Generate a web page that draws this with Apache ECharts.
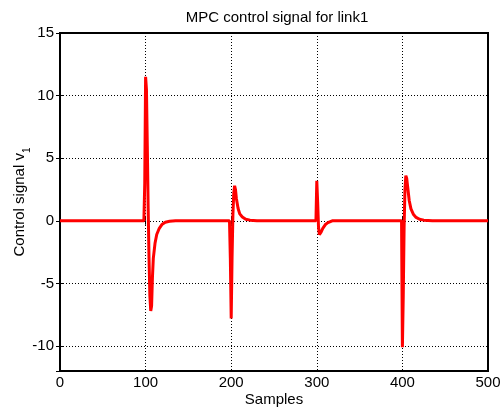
<!DOCTYPE html>
<html lang="en">
<head>
<meta charset="UTF-8" />
<title>MPC control signal</title>
<style>
* { margin: 0; padding: 0; }
#chartEl { width: 501px; height: 408px; background: #fff; }
</style>
</head>
<body>
<div id="chartEl"></div>
<script src="https://cdn.jsdelivr.net/npm/echarts@6/dist/echarts.min.js"></script>
<script>
// samples (zero elsewhere)
const samples = [0, 98, 99, 100, 101, 102, 103, 104, 105, 106, 107, 108, 109, 111, 113, 116, 119, 123, 128, 135,
  198, 199, 200, 201, 202, 203, 204, 205, 206, 208, 210, 213, 217, 222, 230,
  299, 300, 301, 302, 303, 304, 305, 307, 310, 313, 318,
  399, 400, 401, 402, 403, 404, 405, 406, 408, 410, 413, 416, 420, 425, 435, 500];
const signal = [0, 0, 3, 11.5, 10.5, 6, 1, -3, -6, -7.2, -6.8, -4.5, -3, -1.8, -1.1, -0.6, -0.3, -0.12, -0.04, 0,
  0, -3, -7.8, -3, 0.5, 2.2, 2.8, 2.5, 1.8, 1.0, 0.55, 0.3, 0.12, 0.05, 0,
  0, 3.2, 1.5, -0.5, -1.1, -1.2, -0.9, -0.6, -0.3, -0.15, 0,
  0, -10.1, -6, -0.5, 2.5, 3.6, 3.4, 2.8, 1.6, 0.95, 0.5, 0.27, 0.12, 0.05, 0, 0];
const xTicks = [0, 100, 200, 300, 400, 500];
const yTicks = [-10, -5, 0, 5, 10, 15];

const font = 'Liberation Sans, Arial, sans-serif';
const dotted = { color: '#000', type: [1, 2], width: 1 };

const chart = echarts.init(document.getElementById('chartEl'));
chart.setOption({
  animation: false,
  title: {
    text: 'MPC control signal for link1',
    left: 272, top: 5, textAlign: 'center',
    textStyle: { fontFamily: font, fontSize: 15, fontWeight: 'normal', color: '#000' }
  },
  grid: {
    left: 60, right: 13, top: 33, bottom: 37,
    containLabel: false, outerBoundsMode: 'none',
    show: true, borderColor: '#000', borderWidth: 2, backgroundColor: '#fff'
  },
  xAxis: [{
    type: 'value', min: 0, max: 500, interval: 100,
    name: 'Samples', nameLocation: 'middle', nameGap: 21, nameMoveOverlap: false,
    nameTextStyle: { fontFamily: font, fontSize: 15, color: '#000' },
    axisLine: { show: false },
    axisTick: { inside: true, length: 4, lineStyle: { color: '#000' } },
    axisLabel: { fontFamily: font, fontSize: 15, color: '#000', margin: 4,
      formatter: v => xTicks.includes(v) ? String(v) : '' },
    splitLine: { show: true, lineStyle: dotted }
  }, {
    type: 'value', min: 0, max: 500, interval: 100, position: 'top',
    axisLine: { show: false },
    axisTick: { inside: true, length: 4, lineStyle: { color: '#000' } },
    axisLabel: { show: false }, splitLine: { show: false }
  }],
  yAxis: [{
    type: 'value', min: -12, max: 15, splitNumber: 5,
    name: '{a|Control signal v}{s|1}', nameLocation: 'middle', nameGap: 33, nameMoveOverlap: false,
    nameTextStyle: { rich: {
      a: { fontFamily: font, fontSize: 15, color: '#000' },
      s: { fontFamily: font, fontSize: 10, color: '#000', verticalAlign: 'bottom', padding: [0, 0, -5, 0] }
    } },
    axisLine: { show: false },
    axisTick: { inside: true, length: 4, lineStyle: { color: '#000' } },
    axisLabel: { fontFamily: font, fontSize: 15, color: '#000', margin: 6,
      formatter: v => yTicks.includes(v) ? String(v) : '' },
    splitLine: { show: true, lineStyle: dotted }
  }, {
    type: 'value', min: -12, max: 15, splitNumber: 5, position: 'right',
    axisLine: { show: false },
    axisTick: { inside: true, length: 4, lineStyle: { color: '#000' } },
    axisLabel: { show: false }, splitLine: { show: false }
  }],
  series: [{
    type: 'line',
    data: samples.map((s, i) => [s, signal[i]]),
    showSymbol: false,
    lineStyle: { color: '#ff0000', width: 3 },
    z: 5
  }]
});
</script>
</body>
</html>
